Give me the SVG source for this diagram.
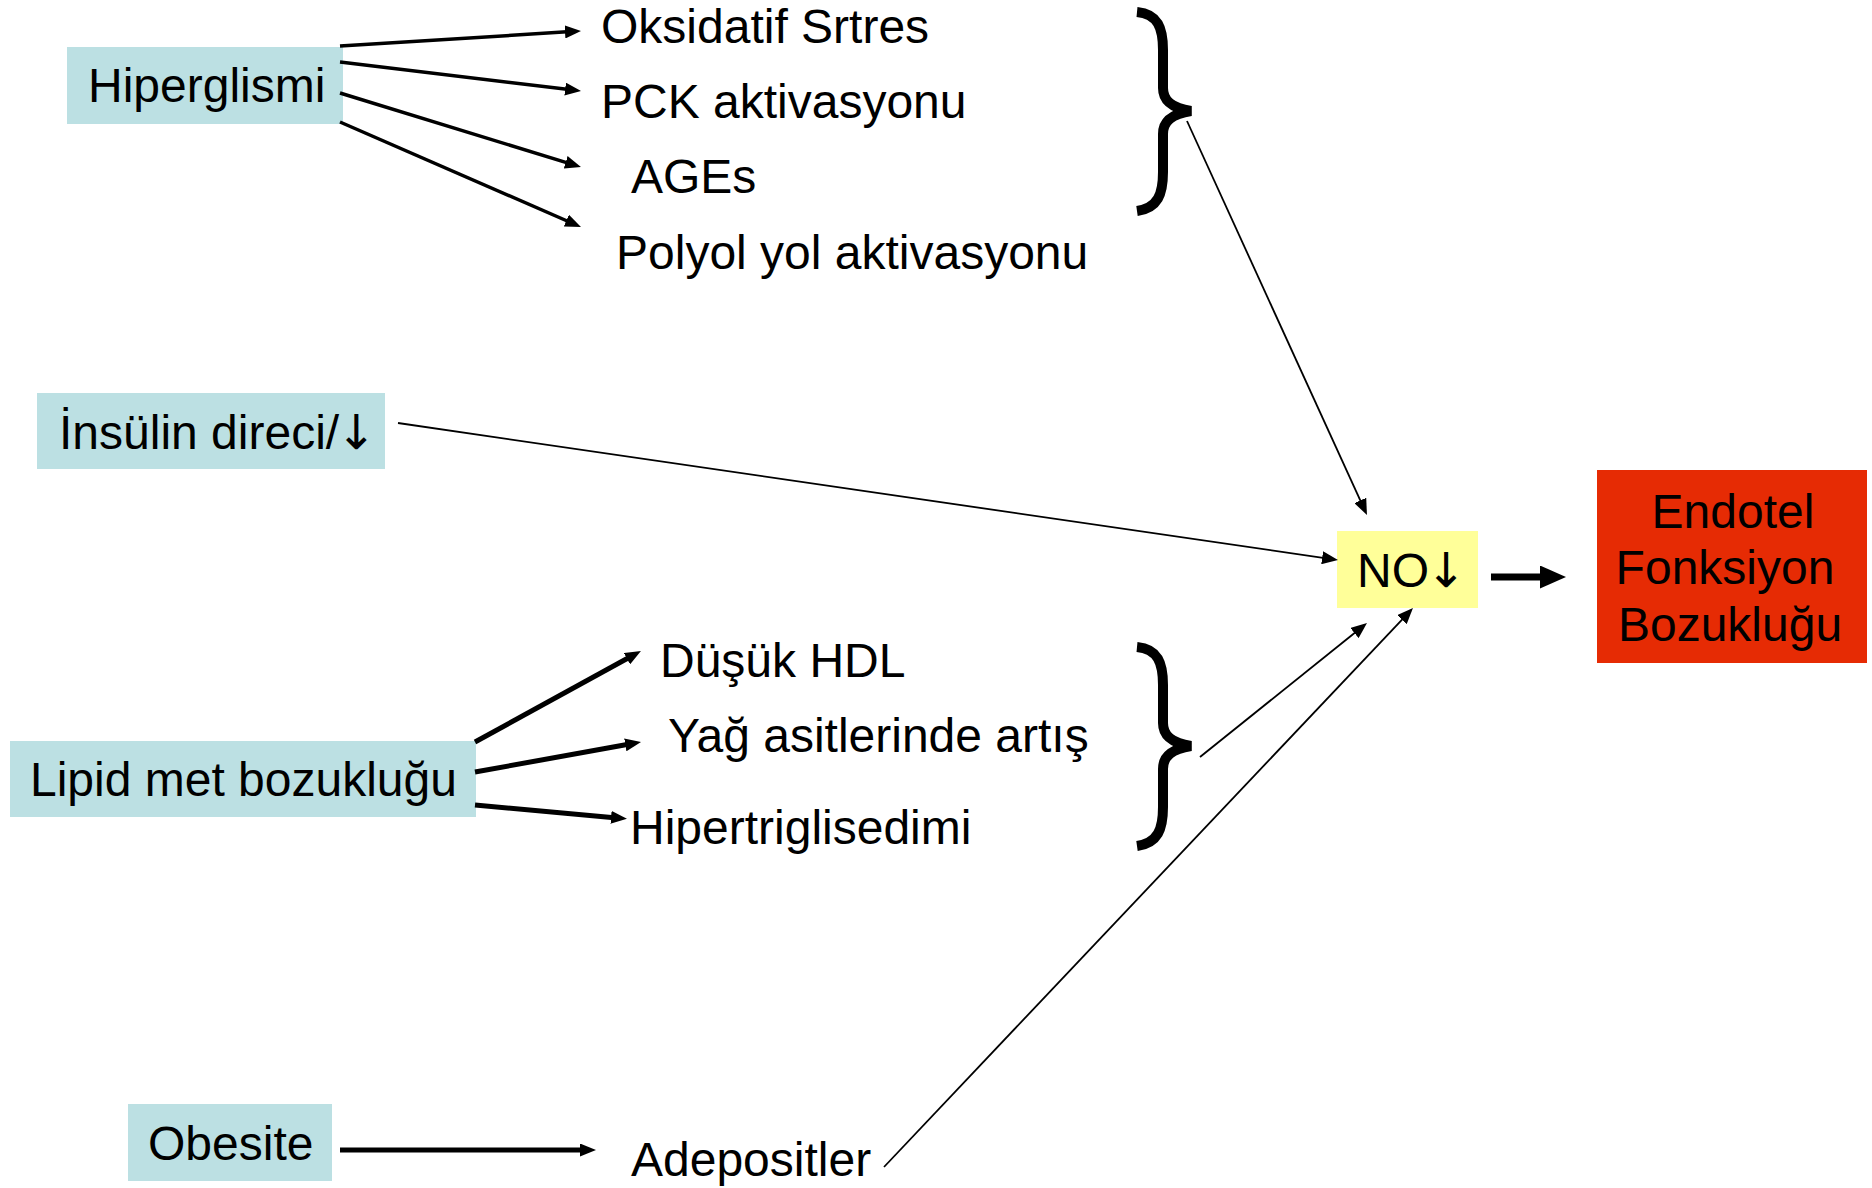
<svg xmlns="http://www.w3.org/2000/svg" width="1872" height="1188" viewBox="0 0 1872 1188">
<style>
text{font-family:"Liberation Sans",Arial,sans-serif;font-size:48px;fill:#000}
.arr{font-family:"DejaVu Sans",sans-serif}
.src{fill:#BCE0E3}
.ln{stroke:#000;fill:none}
.thin{stroke-width:1.8}
.mid{stroke-width:3.5}
.thick{stroke-width:5}
.brace{stroke:#000;stroke-width:10;fill:none}
</style>
<defs>
<marker id="ah" markerUnits="userSpaceOnUse" markerWidth="17" markerHeight="13" refX="6" refY="6.5" orient="auto">
<path d="M0,0 L16,6.5 L0,13 z" fill="#000"/>
</marker>
<marker id="ahb" markerUnits="userSpaceOnUse" markerWidth="27" markerHeight="23" refX="10" refY="11.5" orient="auto">
<path d="M0,0 L26,11.5 L0,23 z" fill="#000"/>
</marker>
</defs>
<rect width="1872" height="1188" fill="#fff"/>

<g id="hiperglismi"><rect class="src" x="67" y="47" width="276" height="77"/><text x="88" y="102">Hiperglismi</text></g>
<g id="oksidatif"><text x="601" y="43">Oksidatif Srtres</text></g>
<g id="pck"><text x="601" y="118">PCK aktivasyonu</text></g>
<g id="ages"><text x="631" y="193">AGEs</text></g>
<g id="polyol"><text x="616" y="269">Polyol yol aktivasyonu</text></g>
<g id="insulin"><rect class="src" x="37" y="393" width="348" height="76"/><text x="59" y="449">İnsülin direci/<tspan class="arr" dx="-3">↓</tspan></text></g>
<g id="no"><rect x="1337" y="531" width="141" height="77" fill="#FFFF99"/><text x="1357" y="587">NO<tspan class="arr" dx="-3">↓</tspan></text></g>
<g id="endotel"><rect x="1597" y="470" width="270" height="193" fill="#E62B04"/>
<text x="1733" y="528" text-anchor="middle">Endotel</text>
<text x="1725" y="584" text-anchor="middle">Fonksiyon</text>
<text x="1730" y="641" text-anchor="middle">Bozukluğu</text></g>
<g id="lipid"><rect class="src" x="10" y="741" width="466" height="76"/><text x="30" y="796">Lipid met bozukluğu</text></g>
<g id="dusuk"><text x="660" y="677">Düşük HDL</text></g>
<g id="yag"><text x="668" y="752">Yağ asitlerinde artış</text></g>
<g id="hipertrig"><text x="630" y="844">Hipertriglisedimi</text></g>
<g id="obesite"><rect class="src" x="128" y="1104" width="204" height="77"/><text x="148" y="1160">Obesite</text></g>
<g id="adepositler"><text x="631" y="1176">Adepositler</text></g>
<g id="brace1"><path class="brace" d="M1137,12 C1158,14 1163,28 1163,50 L1163,88 C1163,101 1172,108 1191,111 C1172,114 1163,121 1163,134 L1163,172 C1163,194 1158,208 1137,211"/></g>
<g id="brace2"><path class="brace" transform="translate(0,635)" d="M1137,12 C1158,14 1163,28 1163,50 L1163,88 C1163,101 1172,108 1191,111 C1172,114 1163,121 1163,134 L1163,172 C1163,194 1158,208 1137,211"/></g>

<g id="connectors">
<line class="ln mid" x1="340" y1="46" x2="571" y2="31.6" marker-end="url(#ah)"/>
<line class="ln mid" x1="340" y1="62" x2="571.1" y2="89.8" marker-end="url(#ah)"/>
<line class="ln mid" x1="340" y1="93" x2="571.4" y2="164.1" marker-end="url(#ah)"/>
<line class="ln mid" x1="340" y1="122" x2="571.8" y2="223" marker-end="url(#ah)"/>
<line class="ln thin" x1="1187" y1="121" x2="1362.8" y2="505.9" marker-end="url(#ah)"/>
<line class="ln thin" x1="398" y1="423" x2="1328.1" y2="558.6" marker-end="url(#ah)"/>
<line class="ln thin" x1="1200" y1="757" x2="1359.2" y2="629.3" marker-end="url(#ah)"/>
<line class="ln thin" x1="884" y1="1167" x2="1406.1" y2="615.3" marker-end="url(#ah)"/>
<line class="ln thick" x1="475" y1="742" x2="632.2" y2="655.8" marker-end="url(#ah)"/>
<line class="ln thick" x1="475" y1="772" x2="631.2" y2="743.8" marker-end="url(#ah)"/>
<line class="ln thick" x1="475" y1="805" x2="617" y2="817.9" marker-end="url(#ah)"/>
<line class="ln thick" x1="340" y1="1150" x2="586" y2="1150" marker-end="url(#ah)"/>
<line class="ln" stroke-width="7" x1="1491" y1="577" x2="1550" y2="577" marker-end="url(#ahb)"/>
</g>
</svg>
